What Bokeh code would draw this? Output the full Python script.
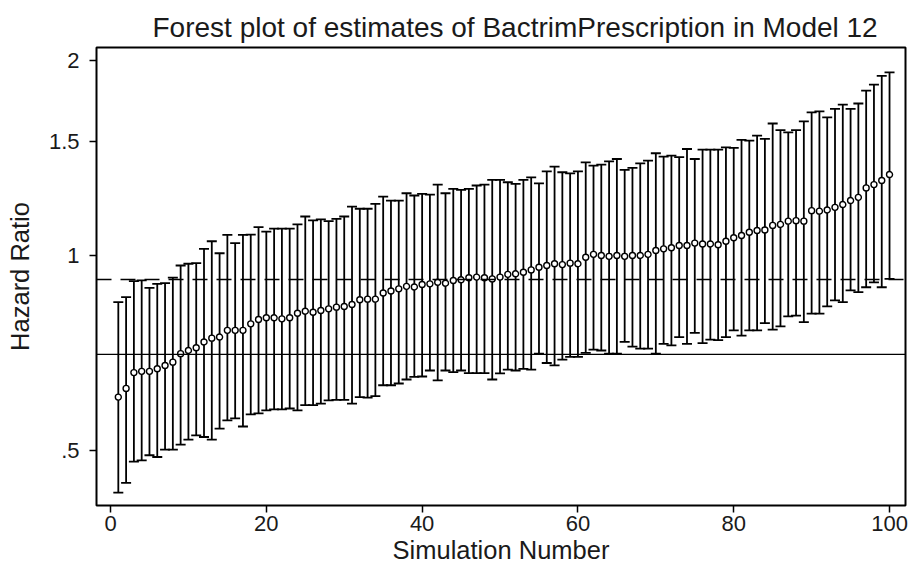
from bokeh.plotting import figure
from bokeh.models import Range1d, FixedTicker, Span, ColumnDataSource
from bokeh.embed import file_html
from bokeh.resources import INLINE

sim = list(range(1, 101))
estimate = [0.604, 0.623, 0.659, 0.662, 0.662, 0.668, 0.676, 0.684, 0.705, 0.713,
            0.720, 0.735, 0.745, 0.748, 0.766, 0.766, 0.766, 0.784, 0.796, 0.801,
            0.801, 0.798, 0.801, 0.814, 0.820, 0.817, 0.822, 0.827, 0.832, 0.834,
            0.840, 0.854, 0.856, 0.856, 0.875, 0.881, 0.888, 0.896, 0.894, 0.902,
            0.904, 0.909, 0.906, 0.915, 0.917, 0.924, 0.926, 0.924, 0.920, 0.926,
            0.935, 0.937, 0.942, 0.950, 0.959, 0.965, 0.971, 0.968, 0.973, 0.971,
            0.994, 1.004, 1.000, 0.997, 1.000, 0.997, 1.000, 1.000, 1.004, 1.018,
            1.024, 1.028, 1.036, 1.036, 1.045, 1.042, 1.042, 1.039, 1.052, 1.065,
            1.074, 1.086, 1.093, 1.095, 1.113, 1.117, 1.130, 1.132, 1.130, 1.173,
            1.171, 1.176, 1.187, 1.199, 1.216, 1.230, 1.272, 1.287, 1.306, 1.334]
lower = [0.430, 0.445, 0.480, 0.482, 0.491, 0.488, 0.501, 0.501, 0.510, 0.519,
         0.527, 0.524, 0.519, 0.540, 0.556, 0.560, 0.544, 0.568, 0.570, 0.576,
         0.578, 0.578, 0.580, 0.576, 0.587, 0.587, 0.590, 0.597, 0.598, 0.598,
         0.590, 0.604, 0.603, 0.606, 0.630, 0.630, 0.634, 0.643, 0.649, 0.650,
         0.664, 0.641, 0.664, 0.660, 0.664, 0.658, 0.658, 0.658, 0.643, 0.657,
         0.666, 0.664, 0.668, 0.666, 0.705, 0.682, 0.676, 0.690, 0.697, 0.697,
         0.707, 0.715, 0.713, 0.705, 0.705, 0.735, 0.723, 0.718, 0.718, 0.705,
         0.730, 0.726, 0.748, 0.730, 0.759, 0.732, 0.741, 0.740, 0.748, 0.766,
         0.752, 0.766, 0.766, 0.786, 0.768, 0.777, 0.805, 0.807, 0.789, 0.813,
         0.813, 0.834, 0.852, 0.847, 0.883, 0.878, 0.893, 0.909, 0.893, 0.920]
upper = [0.847, 0.862, 0.913, 0.915, 0.891, 0.904, 0.906, 0.924, 0.965, 0.971,
         0.973, 1.024, 1.052, 1.008, 1.076, 1.045, 1.076, 1.077, 1.106, 1.089,
         1.100, 1.100, 1.100, 1.117, 1.149, 1.133, 1.137, 1.130, 1.139, 1.149,
         1.190, 1.181, 1.181, 1.202, 1.233, 1.216, 1.216, 1.248, 1.238, 1.245,
         1.242, 1.287, 1.248, 1.268, 1.263, 1.268, 1.283, 1.287, 1.309, 1.309,
         1.298, 1.290, 1.309, 1.321, 1.293, 1.349, 1.372, 1.345, 1.340, 1.349,
         1.393, 1.377, 1.382, 1.398, 1.410, 1.356, 1.366, 1.388, 1.402, 1.439,
         1.422, 1.427, 1.419, 1.461, 1.410, 1.458, 1.458, 1.458, 1.470, 1.467,
         1.509, 1.505, 1.532, 1.515, 1.600, 1.563, 1.550, 1.563, 1.612, 1.664,
         1.670, 1.635, 1.685, 1.711, 1.685, 1.718, 1.798, 1.837, 1.896, 1.919]

ref_dashed = 0.918
ref_solid = 0.703

y_ticks = [0.5, 1.0, 1.5, 2.0]
y_tick_labels = [".5", "1", "1.5", "2"]
x_ticks = [0, 20, 40, 60, 80, 100]

FONT = "Liberation Sans"
INK = "#1a1a1a"

src = ColumnDataSource(dict(x=sim, est=estimate, lo=lower, hi=upper))

p = figure(width=913, height=574, y_axis_type="log",
           x_range=Range1d(-1.80, 102.05), y_range=Range1d(0.4106, 2.097),
           output_backend="svg", toolbar_location=None,
           min_border_left=96, min_border_right=8, min_border_top=47,
           min_border_bottom=69)

p.title.text = "Forest plot of estimates of BactrimPrescription in Model 12"
p.title.align = "left"
p.title.offset = 56
p.title.text_font = FONT
p.title.text_font_size = "28px"
p.title.text_font_style = "normal"
p.title.text_color = INK
p.title.standoff = 9

p.grid.visible = False
p.background_fill_color = "white"
p.border_fill_color = "white"
p.outline_line_color = "black"
p.outline_line_width = 2

# reference lines
p.add_layout(Span(location=ref_solid, dimension="width", line_color="black", line_width=1.3))
p.add_layout(Span(location=ref_dashed, dimension="width", line_color="black", line_width=1.3,
                  line_dash="15 9"))

# CIs
p.segment(x0="x", y0="lo", x1="x", y1="hi", source=src, line_color="black", line_width=1.8)
p.scatter(x="x", y="lo", source=src, marker="dash", size=10, line_color="black", line_width=1.8)
p.scatter(x="x", y="hi", source=src, marker="dash", size=10, line_color="black", line_width=1.8)
p.scatter(x="x", y="est", source=src, marker="circle", size=6, fill_color="white",
          line_color="black", line_width=1.4)

# axes
p.yaxis.ticker = FixedTicker(ticks=y_ticks)
p.yaxis.major_label_overrides = {t: l for t, l in zip(y_ticks, y_tick_labels)}
p.xaxis.ticker = FixedTicker(ticks=x_ticks)
for ax in (p.xaxis[0], p.yaxis[0]):
    ax.axis_line_color = None
    ax.major_tick_in = 0
    ax.major_tick_out = 7
    ax.major_tick_line_width = 1.5
    ax.major_tick_line_color = "black"
    ax.minor_tick_line_color = None
    ax.major_label_text_font = FONT
    ax.major_label_text_font_size = "22px"
    ax.major_label_text_color = INK
    ax.axis_label_text_font = FONT
    ax.axis_label_text_font_size = "25.5px"
    ax.axis_label_text_font_style = "normal"
    ax.axis_label_text_color = INK

p.yaxis.axis_label = "Hazard Ratio"
p.yaxis.major_label_orientation = "horizontal"
p.yaxis.major_label_standoff = 10
p.yaxis.axis_label_standoff = 12
p.xaxis.axis_label = "Simulation Number"
p.xaxis.major_label_standoff = 3
p.xaxis.axis_label_standoff = 2

open("out.html", "w").write(file_html(p, INLINE))
